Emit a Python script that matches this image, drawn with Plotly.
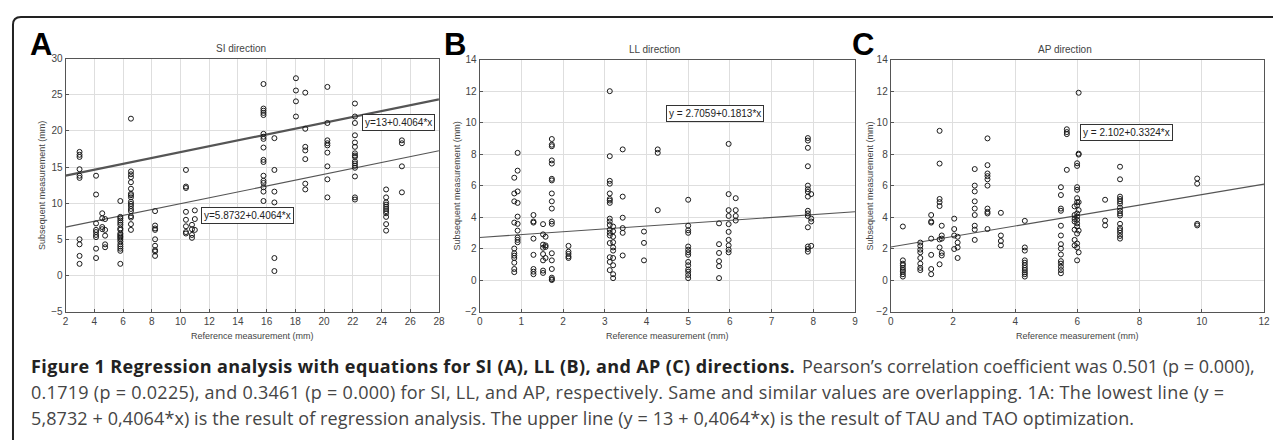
import plotly.graph_objects as go

# page body has an 8px margin; the figure is sized to fill the rest of the window
OFF = 8
W, H = 1281 - OFF, 440 - OFF

# ---------------- data ----------------
# Panel A: SI direction
si_ref = [2.97, 4.12, 4.55, 4.75, 5.81, 6.55, 8.23, 10.38, 10.8, 11.0,
          15.78, 16.54, 18.04, 18.69, 20.23, 22.15, 24.32, 25.42]
si_sub = [
    [17.1, 16.7, 16.4, 14.7, 13.8, 13.5, 5.0, 4.3, 2.7, 1.6],
    [13.8, 11.2, 7.2, 6.3, 6.0, 5.6, 5.3, 3.7, 2.4],
    [8.6, 7.9, 6.7, 6.4],
    [7.8, 6.3, 5.5, 4.3, 3.9],
    [10.3, 8.1, 7.9, 7.6, 7.3, 7.0, 6.5, 6.3, 5.8, 5.6, 5.4, 5.2, 5.0, 4.7, 4.3, 4.0, 3.7, 3.4, 1.6],
    [21.7, 14.4, 14.0, 13.6, 12.9, 12.0, 11.3, 11.1, 10.8, 10.2, 9.9, 9.6, 9.2, 8.9, 8.2, 8.0, 7.1, 6.3],
    [8.9, 6.9, 6.5, 6.3, 5.0, 4.1, 3.5, 3.3, 2.7],
    [14.6, 12.3, 12.1, 8.8, 7.7, 6.8, 6.0, 5.8],
    [7.0, 6.4, 5.6, 5.2],
    [9.0, 7.8, 6.3],
    [26.5, 23.1, 22.8, 22.5, 22.2, 19.6, 19.2, 18.9, 17.7, 16.0, 15.7, 13.8, 13.1, 12.8, 12.2, 11.6, 10.3],
    [19.0, 14.6, 11.6, 10.1, 2.4, 0.6],
    [27.3, 25.6, 24.1, 22.0],
    [25.3, 20.3, 17.8, 17.3, 16.1, 12.7, 11.9],
    [26.1, 21.1, 18.7, 18.3, 18.0, 17.0, 15.1, 13.3, 10.8],
    [23.8, 22.0, 21.1, 19.4, 18.4, 17.8, 16.9, 16.6, 16.4, 15.8, 15.5, 15.2, 14.9, 13.7, 10.8, 10.5],
    [11.9, 10.8, 10.1, 9.8, 9.5, 9.2, 8.9, 8.6, 8.1, 7.1, 6.2],
    [18.7, 18.3, 15.1, 11.5],
]
si_lower = (5.8732, 0.4064)
si_upper = (13.0, 0.4064)

# Panel B: LL direction
ll_ref = [0.83, 0.91, 1.29, 1.52, 1.58, 1.73, 2.13, 3.12, 3.2, 3.43,
          3.94, 4.27, 5.0, 5.74, 5.97, 6.14, 7.87, 7.95]
ll_sub = [
    [6.5, 5.5, 5.0, 3.65, 2.0, 1.7, 1.55, 1.4, 1.1, 0.7, 0.5],
    [8.08, 6.95, 5.63, 4.9, 4.03, 3.57, 3.14, 2.7, 2.55, 2.4],
    [4.13, 3.72, 3.65, 2.63, 1.6, 0.7, 0.53, 0.37],
    [3.55, 2.9, 2.25, 2.05, 1.65, 1.25, 0.6, 0.45],
    [2.75, 2.2, 2.1, 1.4],
    [8.96, 8.6, 8.5, 7.6, 7.4, 6.43, 6.33, 5.5, 5.0, 4.54, 3.72, 3.57, 1.7, 1.25, 0.7, 0.15, 0.05, 0.0],
    [2.17, 1.8, 1.66, 1.5, 1.4],
    [12.0, 7.87, 6.3, 6.12, 5.5, 5.15, 5.05, 4.9, 3.9, 3.72, 3.5, 3.2, 3.0, 2.83, 2.35, 1.45, 1.15, 0.63],
    [3.4, 3.1, 2.75, 2.4, 2.07, 1.87, 1.4, 0.94, 0.37, 0.12],
    [8.3, 5.3, 3.96, 3.3, 3.0, 1.56],
    [3.08, 2.36, 1.25],
    [8.3, 8.08, 4.44],
    [5.1, 3.45, 3.16, 3.0, 2.13, 1.93, 1.76, 1.6, 1.15, 0.94, 0.67, 0.53, 0.32, 0.12],
    [3.6, 2.28, 1.72, 1.2, 0.88, 0.12],
    [8.65, 5.46, 4.44, 4.07, 3.55, 3.06, 2.55, 2.2, 1.93, 1.76],
    [5.2, 4.44, 4.07, 3.78],
    [9.02, 8.86, 8.4, 7.23, 6.0, 5.77, 5.6, 5.3, 4.4, 4.23, 4.07, 3.35, 2.13, 1.97, 1.8],
    [5.46, 3.9, 3.72, 2.17],
]
ll_line = (2.7059, 0.1813)

# Panel C: AP direction
ap_ref = [0.39, 0.95, 1.3, 1.57, 1.64, 2.04, 2.15, 2.7, 3.11, 3.54,
          4.31, 5.47, 5.66, 5.91, 5.99, 6.04, 6.89, 7.37, 9.85]
ap_sub = [
    [3.4, 1.25, 1.04, 0.94, 0.77, 0.63, 0.53, 0.37, 0.22],
    [2.38, 2.17, 1.93, 1.76, 1.4, 1.04, 0.77, 0.63],
    [4.13, 3.72, 3.65, 2.63, 1.6, 0.7, 0.37],
    [9.48, 7.4, 5.15, 4.95, 4.7, 2.58, 2.07, 1.0],
    [3.45, 2.83, 2.63, 1.72, 1.56],
    [3.9, 3.24, 2.83, 1.97],
    [2.75, 2.38, 2.07, 1.4],
    [7.05, 6.0, 5.63, 5.0, 4.54, 4.13, 3.45, 3.2, 2.55],
    [9.0, 7.3, 6.77, 6.6, 6.4, 6.0, 4.54, 4.33, 4.23, 3.24],
    [4.27, 2.83, 2.48, 2.2],
    [3.76, 2.07, 1.87, 1.25, 1.1, 0.94, 0.77, 0.63, 0.49, 0.37, 0.22],
    [5.9, 5.4, 4.54, 4.4, 3.45, 2.83, 2.28, 2.0, 1.62, 1.2, 1.04, 0.84, 0.63, 0.43],
    [9.58, 9.4, 9.27, 7.0],
    [4.68, 4.13, 3.88, 3.72, 3.2, 2.55, 2.2],
    [7.42, 7.25, 5.9, 5.73, 5.2, 4.95, 4.75, 4.23, 4.03, 3.82, 3.6, 3.4, 2.95, 2.32, 2.07, 1.25],
    [11.9, 8.03, 7.97, 4.95, 4.44, 3.14, 1.76],
    [5.1, 3.78, 3.47],
    [7.2, 6.4, 5.3, 5.15, 5.0, 4.85, 4.6, 4.4, 4.23, 4.1, 3.57, 3.3, 3.16, 3.0, 2.8, 2.63],
    [6.45, 6.12, 3.57, 3.47],
]
ap_line = (2.102, 0.3324)

panel_titles = ["SI direction", "LL direction", "AP direction"]
panel_letters = ["A", "B", "C"]
eq_texts = ["y=13+0.4064*x", "y=5.8732+0.4064*x", "y = 2.7059+0.1813*x", "y = 2.102+0.3324*x"]
x_title = "Reference measurement (mm)"
y_title = "Subsequent measurement (mm)"
caption_bold = "Figure 1 Regression analysis with equations for SI (A), LL (B), and AP (C) directions."
caption_lines = [
    "Pearson’s correlation coefficient was 0.501 (p = 0.000),",
    "0.1719 (p = 0.0225), and 0.3461 (p = 0.000) for SI, LL, and AP, respectively. Same and similar values are overlapping. 1A: The lowest line (y =",
    "5,8732 + 0,4064*x) is the result of regression analysis. The upper line (y = 13 + 0,4064*x) is the result of TAU and TAO optimization.",
]

# ---------------- helpers ----------------
def px(x):
    return (x - OFF) / W

def py(y):
    return 1 - (y - OFF) / H

def flatten(ref, sub):
    xs, ys = [], []
    for xv, col in zip(ref, sub):
        for yv in col:
            xs.append(xv)
            ys.append(yv)
    return xs, ys

# pixel boxes (window coordinates) of the three plotting areas (left, right, top, bottom)
boxes = [(63, 439, 54, 314), (480, 858, 55, 314), (894, 1270, 55, 314)]
xranges = [(2, 28), (0, 9), (0, 12)]
yranges = [(-5, 30), (-2, 14), (-2, 14)]
xdticks = [2, 1, 2]
ydticks = [5, 2, 2]

fig = go.Figure()

marker = dict(symbol="circle-open", size=5, color="#1a1a1a", line=dict(width=1, color="#1a1a1a"))
line_col = "#555555"

datasets = [flatten(si_ref, si_sub), flatten(ll_ref, ll_sub), flatten(ap_ref, ap_sub)]
lines = [[si_upper, si_lower], [ll_line], [ap_line]]
line_widths = [[2.2, 1.1], [1.1], [1.1]]

for i in range(3):
    xa = "x" if i == 0 else f"x{i+1}"
    ya = "y" if i == 0 else f"y{i+1}"
    xs, ys = datasets[i]
    x0, x1 = xranges[i]
    for (b0, b1), lw in zip(lines[i], line_widths[i]):
        fig.add_trace(go.Scatter(x=[x0, x1], y=[b0 + b1 * x0, b0 + b1 * x1], mode="lines",
                                 line=dict(color=line_col, width=lw), xaxis=xa, yaxis=ya,
                                 showlegend=False, hoverinfo="skip"))
    fig.add_trace(go.Scatter(x=xs, y=ys, mode="markers", marker=marker,
                             xaxis=xa, yaxis=ya, showlegend=False))

narrow = "Liberation Sans Narrow, Arial Narrow, Liberation Sans, Arial, sans-serif"
tick_font = dict(family=narrow, size=10, color="#444444")
axis_common = dict(showgrid=True, gridcolor="#dedede", gridwidth=1, zeroline=False,
                   showline=True, mirror=True, linecolor="#555555", linewidth=1,
                   ticks="inside", ticklen=3, tickcolor="#555555", tickfont=tick_font)

layout = {}
for i in range(3):
    l, r, t, b = boxes[i]
    sx = "xaxis" if i == 0 else f"xaxis{i+1}"
    sy = "yaxis" if i == 0 else f"yaxis{i+1}"
    anchor_x = "y" if i == 0 else f"y{i+1}"
    anchor_y = "x" if i == 0 else f"x{i+1}"
    layout[sx] = dict(domain=[px(l), px(r)], range=list(xranges[i]), dtick=xdticks[i],
                      tick0=xranges[i][0], anchor=anchor_x, **axis_common)
    layout[sy] = dict(domain=[py(b), py(t)], range=list(yranges[i]), dtick=ydticks[i],
                      tick0=yranges[i][0], anchor=anchor_y, **axis_common)
fig.update_layout(**layout)

ann = []
small_font = dict(family=narrow, size=10, color="#444444")
title_pos = [(240, 43), (656, 44), (1070, 44)]
letter_pos = [(38, 39), (455, 39), (866, 39)]
ytitle_x = [39, 457, 873]
for i in range(3):
    l, r, t, b = boxes[i]
    ann.append(dict(text=panel_titles[i], x=px(title_pos[i][0]), y=py(title_pos[i][1]),
                    xref="paper", yref="paper", showarrow=False, xanchor="center", yanchor="middle",
                    font=small_font))
    ann.append(dict(text="<b>" + panel_letters[i] + "</b>", x=px(letter_pos[i][0]), y=py(letter_pos[i][1]),
                    xref="paper", yref="paper", showarrow=False, xanchor="center", yanchor="middle",
                    font=dict(family="Liberation Sans, Arial, sans-serif", size=31, color="#000000")))
    ann.append(dict(text=x_title, x=px((l + r) / 2), y=py(339), xref="paper", yref="paper",
                    showarrow=False, xanchor="center", yanchor="middle",
                    font=dict(family=narrow, size=9, color="#444444")))
    ann.append(dict(text=y_title, x=px(ytitle_x[i]), y=py((t + b) / 2), xref="paper", yref="paper",
                    showarrow=False, xanchor="center", yanchor="middle", textangle=-90,
                    font=dict(family=narrow, size=9, color="#444444")))

eq_pos = [(398.5, 119.5), (246.5, 215), (717.5, 110.5), (1131.5, 129.5)]
for txt, (ex, ey) in zip(eq_texts, eq_pos):
    ann.append(dict(text=txt, x=px(ex), y=py(ey), xref="paper", yref="paper", showarrow=False,
                    xanchor="center", yanchor="middle", bgcolor="#ffffff", bordercolor="#333333",
                    borderwidth=1, borderpad=2,
                    font=dict(family=narrow, size=10, color="#222222")))

cap_family = "Open Sans, Lato, sans-serif"
ann.append(dict(text='<span style="letter-spacing:0.38px"><b>' + caption_bold + "</b></span>",
                x=px(26), y=py(370), xref="paper", yref="paper",
                showarrow=False, xanchor="left", yanchor="middle",
                font=dict(family=cap_family, size=18, color="#222222")))
cap_pos = [(803, 370), (26, 397), (26, 424)]
cap_spacing = [0.0, 0.28, 0.1]
for txt, (cx, cy), ls in zip(caption_lines, cap_pos, cap_spacing):
    ann.append(dict(text=f'<span style="letter-spacing:{ls}px">' + txt + "</span>",
                    x=px(cx), y=py(cy), xref="paper", yref="paper", showarrow=False,
                    xanchor="left", yanchor="middle",
                    font=dict(family=cap_family, size=18, color="#454545")))

frame = (f"M {px(10)},{py(450)} L {px(10)},{py(19)} Q {px(10)},{py(11)} {px(18)},{py(11)} "
         f"L {px(1295)},{py(11)}")
fig.update_layout(
    width=W, height=H, margin=dict(l=0, r=0, t=0, b=0),
    paper_bgcolor="#ffffff", plot_bgcolor="#ffffff",
    annotations=ann,
    shapes=[dict(type="path", path=frame, xref="paper", yref="paper",
                 line=dict(color="#222222", width=2))],
    showlegend=False,
)

fig.write_html("out.html")
